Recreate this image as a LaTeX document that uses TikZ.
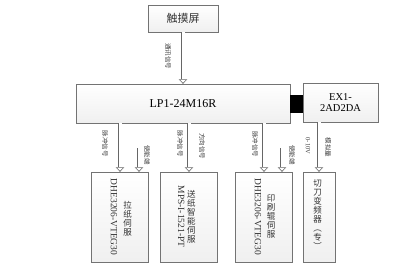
\documentclass[tikz,border=0pt]{standalone}
\usepackage{fontspec}
\setmainfont{Liberation Serif}
\newfontfamily\cjk{Noto Sans CJK SC}
\usetikzlibrary{arrows.meta,shadows}

\tikzset{
  block/.style={draw=black!55, top color=white, bottom color=gray!12, inner sep=0pt,
    drop shadow={opacity=0.3, shadow xshift=0.7pt, shadow yshift=-0.7pt}},
  link/.style={draw=black!60, line width=0.6pt, double=white, double distance=3pt,
    -{Triangle[open, width=8.5pt, length=4.5pt]}},
  tag/.style={font=\cjk\fontsize{6.5}{6.5}\selectfont, rotate=-90, text=black!75, inner sep=0pt},
  vtext/.style={font=\cjk\fontsize{8.5}{9}\selectfont, align=center, inner sep=0pt, text=black!80},
  rtext/.style={font=\fontsize{9.5}{9.5}\selectfont, rotate=-90, inner sep=0pt, text=black!80}
}

\begin{document}
\begin{tikzpicture}[x=1pt,y=1pt]
  \useasboundingbox (0,0) rectangle (398,-271);
  % upper row
  \node[block, minimum width=70pt, minimum height=27pt, text=gray!40!black,
        font=\cjk\fontsize{11}{11}\selectfont] (touch) at (183,-18.5) {触摸屏};
  \node[block, minimum width=214pt, minimum height=39pt,
        font=\fontsize{12}{12}\selectfont] (plc) at (183,-103.5) {LP1-24M16R};
  \node[block, minimum width=75pt, minimum height=39pt, align=center,
        font=\fontsize{10.5}{11}\selectfont] (ex) at (340.5,-102.5) {EX1-\\2AD2DA};
  \draw[line width=18pt] (plc.east) -- (plc.east -| ex.west);
  % lower row
  \node[block, minimum width=57pt, minimum height=90pt] (lazhi) at (120,-217) {};
  \node[block, minimum width=57pt, minimum height=90pt] (songzhi) at (189,-217) {};
  \node[block, minimum width=57pt, minimum height=90pt] (yinshua) at (264,-217) {};
  \node[block, minimum width=32pt, minimum height=90pt] (qiedao) at (319,-217) {};
  \node[rtext] (lazhiType) at (114,-217) {DHE3206-VTEG30};
  \node[vtext] (lazhiName) at (127.5,-219) {拉\\纸\\伺\\服};
  \node[rtext] (songzhiType) at (181.3,-216.5) {MPS-I-1521-PT};
  \node[vtext] (songzhiName) at (191.3,-216.5) {送\\纸\\智\\能\\伺\\服};
  \node[rtext] (yinshuaType) at (258,-216.7) {DHE3206-VTEG30};
  \node[vtext] (yinshuaName) at (271,-216.7) {印\\刷\\辊\\伺\\服};
  \node[vtext] (qiedaoName) at (317.5,-215) {切\\刀\\变\\频\\器\\︵\\专\\︶};
  % connectors
  \draw[link] (touch) -- (plc);
  \draw[link] (plc.south -| lazhi.north) -- (lazhi.north);
  \draw[link] (plc.south -| songzhi.north) -- (songzhi.north);
  \draw[link] (plc.south -| yinshua.north) -- (yinshua.north);
  \draw[link] (ex.south -| qiedao.north) -- (qiedao.north);
  \coordinate (lazhiIn) at (139,-148);
  \coordinate (yinshuaIn) at (282,-148);
  \draw[link] (lazhiIn) -- (lazhiIn |- lazhi.north);
  \draw[link] (yinshuaIn) -- (yinshuaIn |- yinshua.north);
  % signal labels
  \node[tag] (touchTag) at (168,-56) {通讯信号};
  \node[tag] (lazhiTag) at (105,-143.5) {脉冲信号};
  \node[tag] (lazhiTagB) at (147,-155) {使能端};
  \node[tag] (songzhiTag) at (180,-143.5) {脉冲信号};
  \node[tag] (songzhiTagB) at (202,-146) {方向信号};
  \node[tag] (yinshuaTag) at (255,-144) {脉冲信号};
  \node[tag] (yinshuaTagB) at (292,-155) {使能端};
  \node[tag, font=\fontsize{6.5}{6.5}\selectfont] (qiedaoTag) at (308,-146) {0-10V};
  \node[tag] (qiedaoTagB) at (328,-147.5) {模拟量};
\end{tikzpicture}
\end{document}
